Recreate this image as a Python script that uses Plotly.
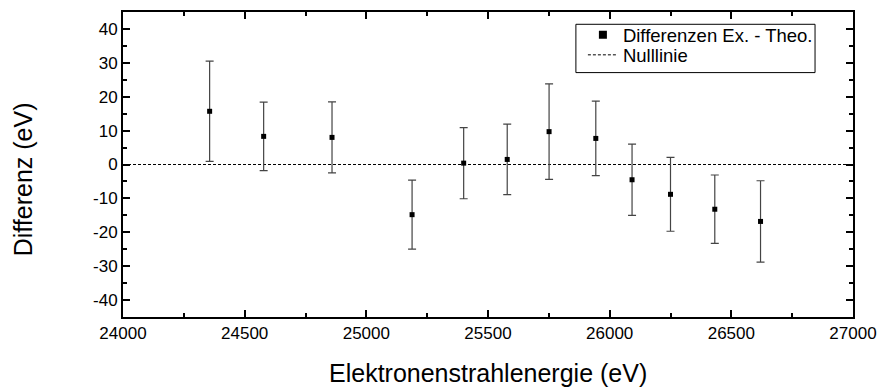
import plotly.graph_objects as go

# Data
energy = [24356, 24578, 24859, 25188, 25400, 25579, 25751, 25943, 26092, 26250, 26432, 26620]
diff = [15.7, 8.3, 8.0, -14.8, 0.4, 1.5, 9.7, 7.7, -4.5, -8.8, -13.2, -16.8]
err = [14.8, 10.1, 10.5, 10.2, 10.5, 10.4, 14.1, 11.0, 10.5, 10.9, 10.1, 12.0]
null_x = [24000, 27000]
null_y = [0, 0]
y_ticks = [-40, -30, -20, -10, 0, 10, 20, 30, 40]
y_ticklabels = ["-40", "-30", "-20", "-10", "0", "10", "20", "30", "40"]

FONT = "Arial, Liberation Sans, sans-serif"
DASH = "3px,2px"

fig = go.Figure()
fig.add_trace(go.Scatter(
    x=null_x, y=null_y, mode="lines", name="Nulllinie",
    line=dict(color="black", width=1, dash=DASH), showlegend=False))
fig.add_trace(go.Scatter(
    x=energy, y=diff, mode="markers", name="Differenzen Ex. - Theo.",
    marker=dict(symbol="square", size=5, color="black"),
    error_y=dict(type="data", array=err, visible=True, color="#444444", thickness=1.2, width=4),
    showlegend=False))
# legend entries
fig.add_trace(go.Scatter(
    x=[None], y=[None], mode="markers", name="Differenzen Ex. - Theo.",
    marker=dict(symbol="square", size=8, color="black"), legend="legend"))
fig.add_trace(go.Scatter(
    x=[None], y=[None], mode="lines", name="Nulllinie",
    line=dict(color="black", width=1, dash=DASH), legend="legend2"))

axis_common = dict(
    showline=True, linecolor="black", linewidth=2, mirror="allticks",
    ticks="inside", ticklen=7, tickwidth=1.5, tickcolor="black",
    showgrid=False, zeroline=False, automargin=False,
    tickfont=dict(family=FONT, size=17, color="black"),
)

leg_common = dict(xanchor="left", yanchor="middle", bgcolor="rgba(0,0,0,0)",
                  borderwidth=0, font=dict(family=FONT, size=18.5, color="black"))

fig.update_layout(
    width=881, height=391,
    margin=dict(l=123, r=28, t=12, b=74, autoexpand=False),
    paper_bgcolor="white", plot_bgcolor="white",
    xaxis=dict(range=[24000, 27000], tickmode="linear", tick0=24000, dtick=500, tickformat="d",
               minor=dict(ticks="inside", ticklen=4, tickwidth=1.5, tickcolor="black", dtick=250),
               **axis_common),
    yaxis=dict(range=[-45, 45], tickmode="array", tickvals=y_ticks, ticktext=y_ticklabels,
               minor=dict(ticks="inside", ticklen=4, tickwidth=1.5, tickcolor="black", dtick=5),
               **axis_common),
    legend=dict(x=0.63, y=0.9236, **leg_common),
    legend2=dict(x=0.63, y=0.858, **leg_common),
    showlegend=True,
    shapes=[dict(type="rect", xref="paper", yref="paper", x0=0.6204, x1=0.948,
                 y0=0.8013, y1=0.9597, line=dict(color="black", width=1),
                 fillcolor="rgba(0,0,0,0)", layer="above")],
    annotations=[
        dict(text="Differenz (eV)", xref="paper", yref="paper", x=-0.137, y=0.4515,
             xanchor="center", yanchor="middle", textangle=-90, showarrow=False,
             font=dict(family=FONT, size=25, color="black")),
        dict(text="Elektronenstrahlenergie (eV)", xref="paper", yref="paper", x=0.5, y=-0.1846,
             xanchor="center", yanchor="middle", showarrow=False,
             font=dict(family=FONT, size=25, color="black")),
    ],
)

fig.write_html("out.html")
